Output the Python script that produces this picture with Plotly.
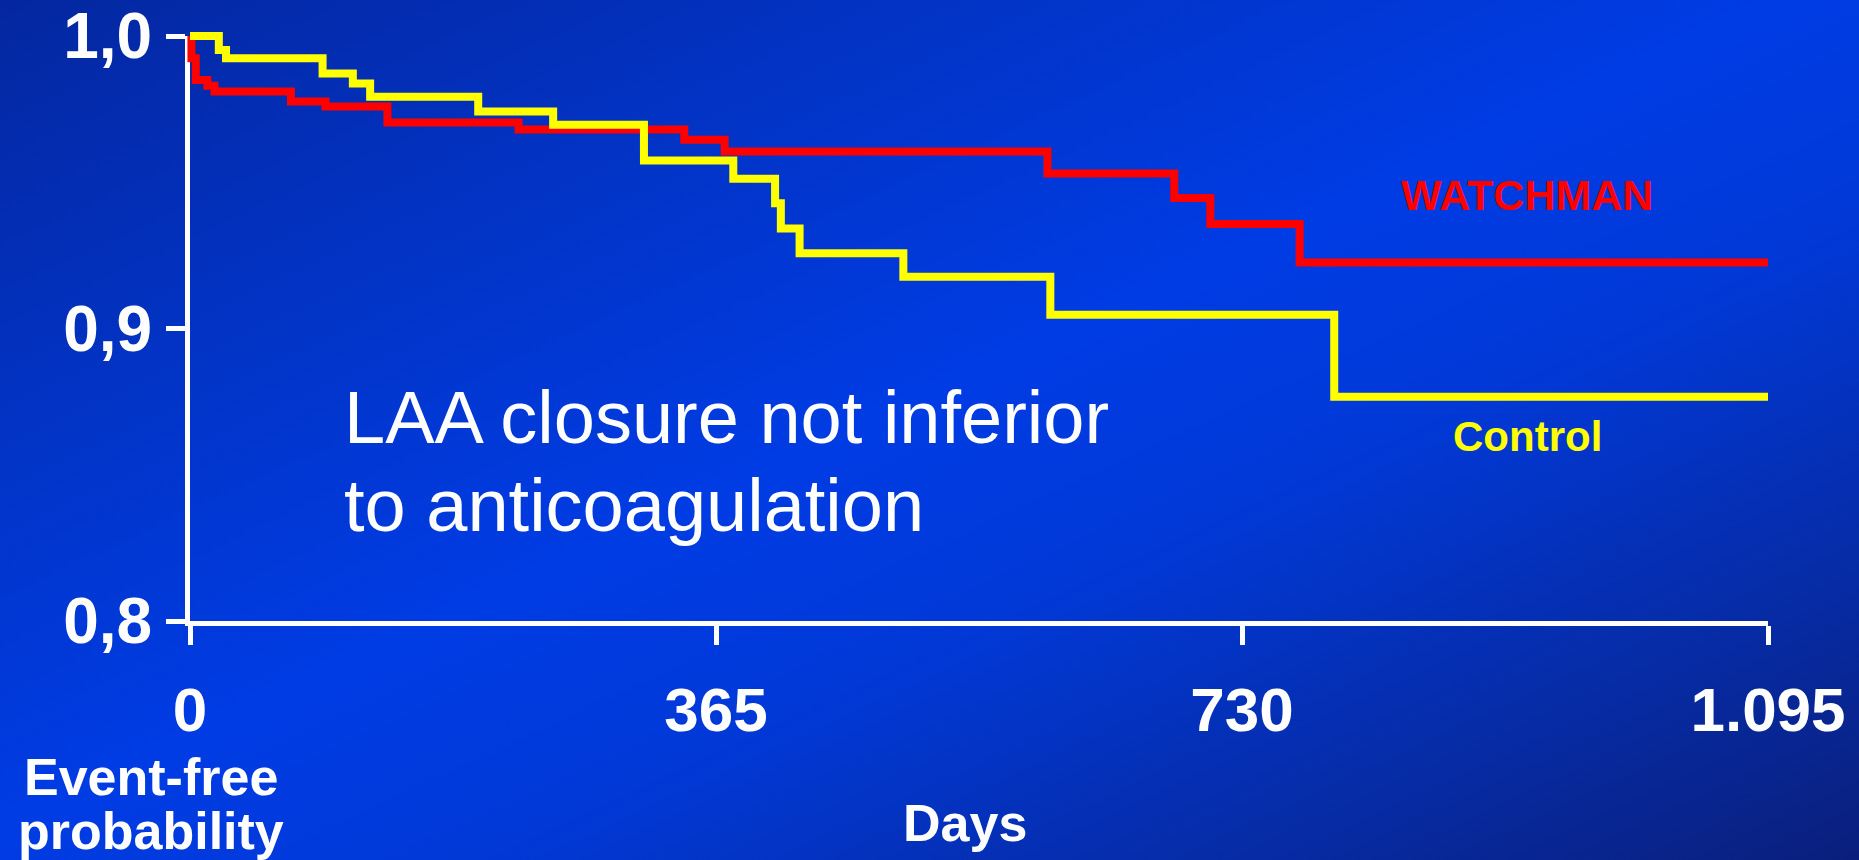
import base64
import plotly.graph_objects as go

W, H = 1859, 860

# ---------------- data ----------------
watchman_days = [0, 1, 4, 12, 17, 70, 94, 137, 228, 343, 371, 595, 683, 708, 770, 1095]
watchman_surv = [1.0, 0.9924, 0.985, 0.983, 0.981, 0.9776, 0.9759, 0.9704, 0.968,
                 0.9645, 0.9605, 0.953, 0.9446, 0.9357, 0.9226, 0.9226]

control_days = [0, 20, 25, 92, 113, 125, 200, 252, 315, 377, 406, 410, 423, 495, 597, 794, 1095]
control_surv = [1.0, 0.9952, 0.9924, 0.9872, 0.9838, 0.9792, 0.9742, 0.9697, 0.9574,
                0.9512, 0.9428, 0.9342, 0.9257, 0.9177, 0.9047, 0.8767, 0.8767]

x_tickvals = [0, 365, 730, 1095]
x_ticktext = ["0", "365", "730", "1.095"]
y_tickvals = [0.8, 0.9, 1.0]
y_ticktext = ["0,8", "0,9", "1,0"]

FONT = "Liberation Sans, Arial, Helvetica, sans-serif"

# ---------------- geometry (pixels) ----------------
PX_L, PX_R = 190, 1768      # x = 0 .. 1095
PX_T, PX_B = 36, 621        # y = 1.0 .. 0.8
PAD = 10
kx = (PX_R - PX_L) / 1095.0
ky = (PX_B - PX_T) / 0.2


def fx(px):
    return px / W


def fy(py):
    return 1 - py / H


# ---------------- background gradient ----------------
svg = (
    f'<svg xmlns="http://www.w3.org/2000/svg" width="{W}" height="{H}" '
    f'viewBox="0 0 {W} {H}" preserveAspectRatio="none">'
    '<defs><linearGradient id="g" x1="0" y1="0" x2="1" y2="1">'
    '<stop offset="0" stop-color="#0427a0"/>'
    '<stop offset="0.25" stop-color="#0233c4"/>'
    '<stop offset="0.48" stop-color="#003ce4"/>'
    '<stop offset="0.62" stop-color="#0139d8"/>'
    '<stop offset="0.82" stop-color="#062ca8"/>'
    '<stop offset="1" stop-color="#0a1f7c"/>'
    '</linearGradient></defs>'
    f'<rect x="0" y="0" width="{W}" height="{H}" fill="url(#g)"/></svg>'
)
bg_src = "data:image/svg+xml;base64," + base64.b64encode(svg.encode()).decode()

fig = go.Figure()

# empty trace to host the display axes
fig.add_trace(go.Scatter(x=[], y=[], xaxis="x", yaxis="y", showlegend=False, hoverinfo="skip"))

fig.add_trace(go.Scatter(
    x=watchman_days, y=watchman_surv, mode="lines", line=dict(color="#ff0000", width=8, shape="hv"),
    xaxis="x2", yaxis="y2", showlegend=False, hoverinfo="skip", name="WATCHMAN"))
fig.add_trace(go.Scatter(
    x=control_days, y=control_surv, mode="lines", line=dict(color="#ffff00", width=8, shape="hv"),
    xaxis="x2", yaxis="y2", showlegend=False, hoverinfo="skip", name="Control"))

axis_common = dict(showgrid=False, zeroline=False, showline=True, linecolor="white", linewidth=5,
                   ticks="outside", ticklen=19, tickwidth=5, tickcolor="white", automargin=False)

fig.update_layout(
    width=W, height=H,
    margin=dict(l=0, r=0, t=0, b=0),
    paper_bgcolor="#0034c8",
    plot_bgcolor="rgba(0,0,0,0)",
    hovermode=False,
    xaxis=dict(domain=[fx(PX_L), fx(PX_R)], range=[0, 1095], anchor="y",
               tickvals=x_tickvals, ticktext=x_ticktext, ticklabelstandoff=12,
               tickfont=dict(family=FONT, size=62, color="white", weight="bold"), **axis_common),
    yaxis=dict(domain=[fy(PX_B), fy(PX_T)], range=[0.8, 1.0], anchor="x",
               tickvals=y_tickvals, ticktext=y_ticktext, ticklabelstandoff=1,
               tickfont=dict(family=FONT, size=64, color="white", weight="bold"), **axis_common),
    xaxis2=dict(domain=[fx(PX_L - PAD), fx(PX_R + PAD)], range=[-PAD / kx, 1095 + PAD / kx],
                anchor="y2", visible=False),
    yaxis2=dict(domain=[fy(PX_B + PAD), fy(PX_T - PAD)], range=[0.8 - PAD / ky, 1.0 + PAD / ky],
                anchor="x2", visible=False),
    images=[dict(source=bg_src, xref="paper", yref="paper", x=0, y=1, sizex=1, sizey=1,
                 xanchor="left", yanchor="top", sizing="stretch", layer="below")],
)


def ann(text, px, py, size, color="white", bold=False, xanchor="center"):
    fig.add_annotation(text=text, x=fx(px), y=fy(py), xref="paper", yref="paper",
                       xanchor=xanchor, yanchor="middle", showarrow=False,
                       font=dict(family=FONT, size=size, color=color, weight="bold" if bold else "normal"))


ann("WATCHMAN", 1527, 195, 43, color="#ff0000", bold=True)
ann("Control", 1527, 436, 42, color="#ffff00", bold=True)
ann("LAA closure not inferior", 342, 417, 74, xanchor="left")
ann("to anticoagulation", 342, 505, 74, xanchor="left")
ann("Event-free", 151, 777, 52, bold=True)
ann("probability", 151, 831, 52, bold=True)
ann("Days", 965, 823, 52, bold=True)

fig.write_html("out.html")
